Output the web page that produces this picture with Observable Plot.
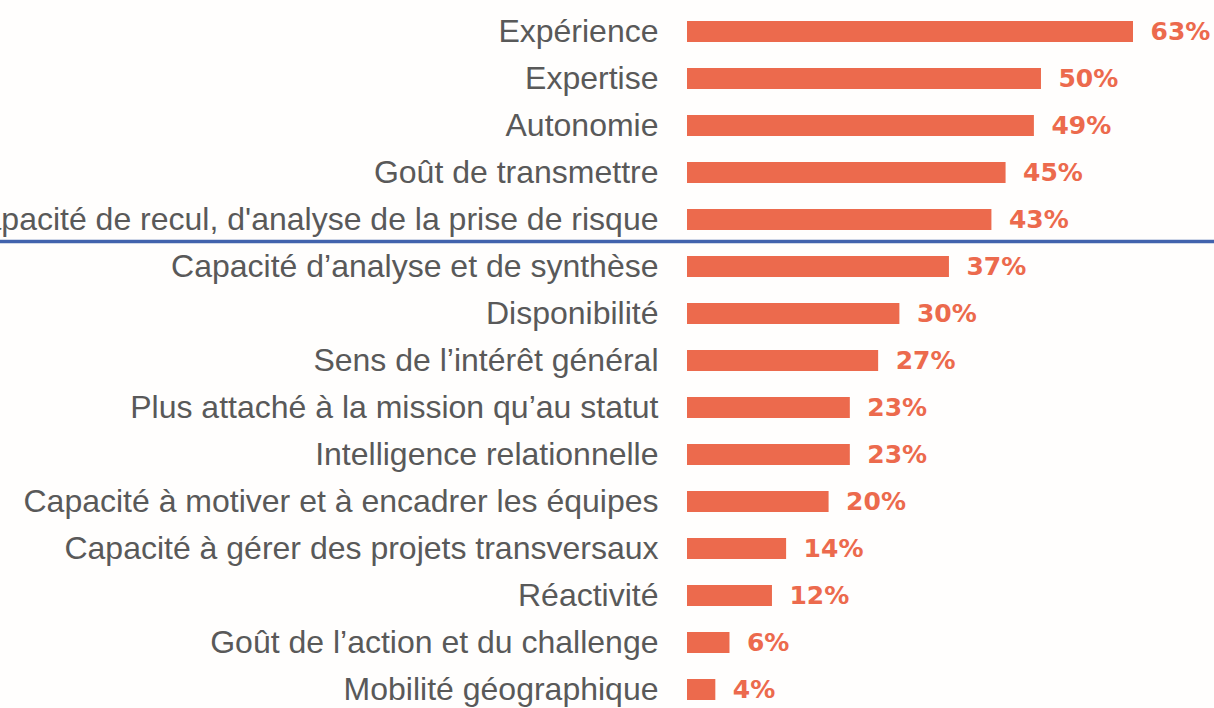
<!DOCTYPE html>
<html>
<head>
<meta charset="utf-8">
<script src="https://cdn.jsdelivr.net/npm/d3@7"></script>
<script src="https://cdn.jsdelivr.net/npm/@observablehq/plot@0.6"></script>
<style>
  html, body { margin: 0; padding: 0; background: #fffefd; overflow: hidden; }
  #chart svg { display: block; }
</style>
</head>
<body>
<div id="chart"></div>
<script>
const categories = [
  "Expérience",
  "Expertise",
  "Autonomie",
  "Goût de transmettre",
  "Capacité de recul, d'analyse de la prise de risque",
  "Capacité d’analyse et de synthèse",
  "Disponibilité",
  "Sens de l’intérêt général",
  "Plus attaché à la mission qu’au statut",
  "Intelligence relationnelle",
  "Capacité à motiver et à encadrer les équipes",
  "Capacité à gérer des projets transversaux",
  "Réactivité",
  "Goût de l’action et du challenge",
  "Mobilité géographique"
];
const values = [63, 50, 49, 45, 43, 37, 30, 27, 23, 23, 20, 14, 12, 6, 4];
const separatorAfter = ["Capacité de recul, d'analyse de la prise de risque"];

const data = categories.map((c, i) => ({category: c, value: values[i]}));

const W = 1214, H = 708;
const barColor = "#ec6a4d";
const step = (692 - 29) / 14;

const chart = Plot.plot({
  width: W,
  height: H,
  marginLeft: 687,
  marginRight: 81,
  marginTop: 0,
  marginBottom: 0,
  style: {background: "transparent", fontFamily: "'Liberation Sans', Arial, sans-serif", overflow: "visible"},
  x: {domain: [0, 63], range: [687, 1133], axis: null},
  y: {
    domain: categories,
    range: [29 - step / 2, 692 + step / 2],
    paddingInner: 0.557,
    paddingOuter: 0.2785,
    label: null
  },
  marks: [
    Plot.barX(data, {x: "value", y: "category", fill: barColor}),
    Plot.text(data, {
      x: "value", y: "category", text: d => d.value + "%",
      dx: 17, textAnchor: "start", fill: barColor,
      fontWeight: "bold", fontSize: 25, fontFamily: "'DejaVu Sans', sans-serif"
    }),
    Plot.ruleY(separatorAfter, {y: d => d, dy: 21.5, stroke: "#4263ad", strokeWidth: 3.5}),
    Plot.axisY({
      tickSize: 0, tickPadding: 29, fontSize: 32, fill: "#595959",
      label: null
    })
  ]
});

// extend separator rule across the full width
chart.querySelectorAll('g[aria-label="rule"] line').forEach(l => {
  l.setAttribute("x1", 0);
  l.setAttribute("x2", W);
});
chart.querySelectorAll('g[aria-label="y-axis tick label"]').forEach(t => {
  t.setAttribute("fill", "#595959");
});
document.getElementById("chart").appendChild(chart);
</script>
</body>
</html>
